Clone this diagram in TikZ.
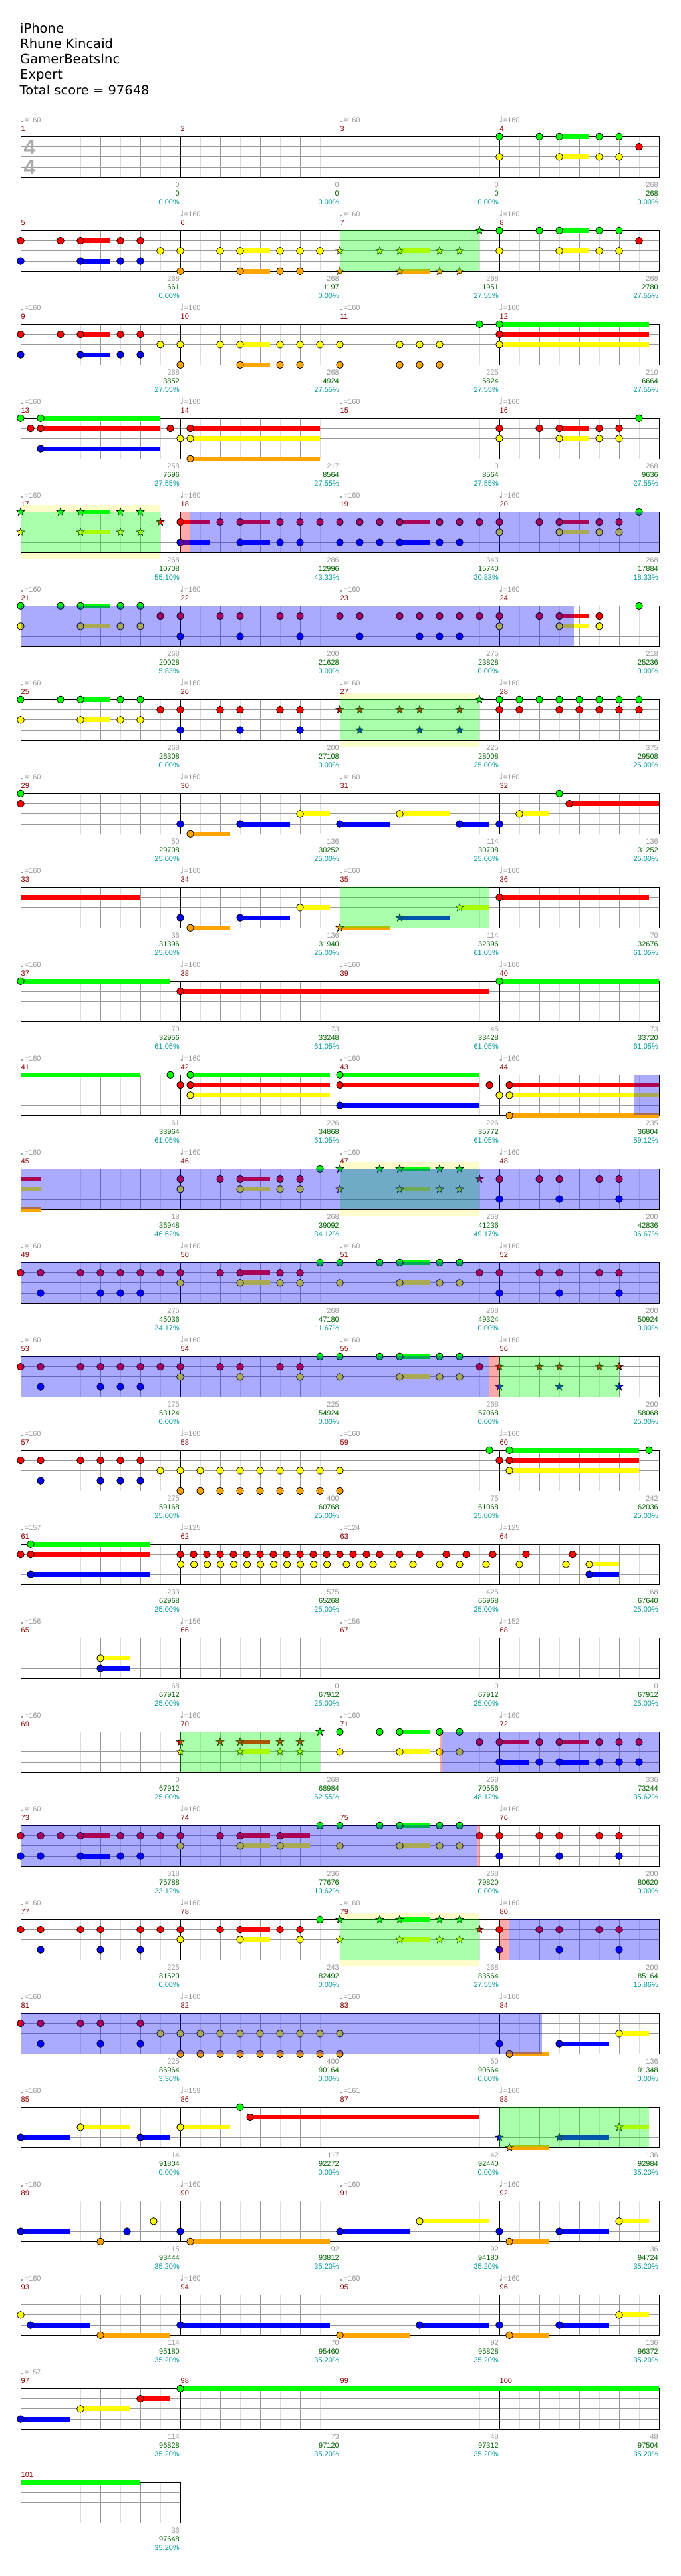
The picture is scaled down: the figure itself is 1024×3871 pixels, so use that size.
\documentclass[tikz,border=0pt]{standalone}
\usepackage{fontspec}
\setmainfont{Liberation Sans}
\newfontfamily\headfont{DejaVu Sans}

\definecolor{lane0}{RGB}{0,255,0}
\definecolor{lane1}{RGB}{255,0,0}
\definecolor{lane2}{RGB}{255,255,0}
\definecolor{lane3}{RGB}{0,0,255}
\definecolor{lane4}{RGB}{255,165,0}
\definecolor{gridlight}{RGB}{221,221,221}
\definecolor{gridbeat}{RGB}{153,153,153}
\definecolor{numred}{RGB}{139,0,0}
\definecolor{ptsgray}{RGB}{153,153,153}
\definecolor{totgreen}{RGB}{0,100,0}
\definecolor{pctcyan}{RGB}{0,153,153}
\definecolor{siggray}{RGB}{170,170,170}

% measure origin: \mx = left edge, \my = top string
\newcommand\mxy[1]{%
  \pgfmathsetmacro\mx{31+240*mod(#1-1,4)}%
  \pgfmathsetmacro\my{205.3+141*floor((#1-1)/4)}}
% note: measure, position (16ths), lane
\newcommand\nt[3]{\mxy{#1}%
  \filldraw[fret, fill=lane#3] (\mx+15*#2, \my+15.25*#3) circle[radius=5.3pt];}
\newcommand\starnt[3]{\mxy{#1}%
  \filldraw[fret, line width=0.6pt, fill=lane#3] (\mx+15*#2, \my+15.25*#3)
    +(270:6.3) -- +(306:2.6) -- +(342:6.3) -- +(18:2.6) -- +(54:6.3) -- +(90:2.6)
    -- +(126:6.3) -- +(162:2.6) -- +(198:6.3) -- +(234:2.6) -- cycle;}
\newcommand\nts[3]{\foreach \p in {#3}{\nt{#1}{\p}{#2}}}
\newcommand\sts[3]{\foreach \p in {#3}{\starnt{#1}{\p}{#2}}}
% sustain: measure, lane, from, to
\newcommand\hld[4]{\mxy{#1}%
  \fill[lane#2] (\mx+15*#3, \my+15.25*#2-3.5) rectangle (\mx+15*#4, \my+15.25*#2+3.5);}
\newcommand\zone[4]{\mxy{#2}%
  \fill[#1] (\mx+15*#3, \my) rectangle (\mx+15*#4, \my+61);}
\newcommand\soloband[3]{\mxy{#1}%
  \fill[solo] (\mx+15*#2, \my-10) rectangle (\mx+15*#3, \my);
  \fill[solo] (\mx+15*#2, \my+61) rectangle (\mx+15*#3, \my+71);}
\newcommand\bpm[2]{\mxy{#1}%
  \node[lab, text=ptsgray, anchor=base west] (bpm#1) at (\mx-0.5, \my-20.4)
    {{\headfont\fontsize{13}{13}\selectfont ♩}=#2};}

\begin{document}
\begin{tikzpicture}[x=1pt, y=-1pt,
    fret/.style={draw=black, line width=0.8pt},
    eighth/.style={draw=gridlight, line width=0.9pt},
    beat/.style={draw=gridbeat, line width=0.9pt},
    bar/.style={draw=black, line width=0.9pt},
    solo/.style={fill=yellow!20},
    sp/.style={fill=lane0, fill opacity=0.333},
    od/.style={fill=lane3, fill opacity=0.333},
    miss/.style={fill=lane1, fill opacity=0.333},
    lab/.style={inner sep=0pt, anchor=base east, font=\fontsize{11}{13}\selectfont},
    head/.style={inner sep=0pt, anchor=base west, font=\headfont\fontsize{19.5}{23}\selectfont},
    tsig/.style={inner sep=0pt, text=siggray, font=\bfseries\fontsize{32}{32}\selectfont}
  ]
  \fill[white] (0,0) rectangle (1024,3871);
  \useasboundingbox (0,0) rectangle (1024,3871);

  % solo bands
  \soloband{17}{0}{14} \soloband{27}{0}{14} \soloband{47}{0}{14} \soloband{79}{0}{14}

  % staves
  \foreach \r in {0,...,25} {
    \pgfmathsetmacro\ty{205.3+141*\r}
    \pgfmathtruncatemacro\xe{\r==25 ? 271 : 991}
    \pgfmathtruncatemacro\xl{\xe-30}
    \pgfmathtruncatemacro\xg{\xe-60}
    \foreach \x in {61,121,...,\xl} \draw[eighth] (\x,\ty) -- (\x,\ty+61);
    \foreach \x in {91,151,...,\xg} \draw[beat] (\x,\ty) -- (\x,\ty+61);
    \foreach \l in {1,2,3} \draw[beat] (31,\ty+15.25*\l) -- (\xe,\ty+15.25*\l);
    \ifnum\r<25
      \foreach \x in {271,511,751} \draw[bar] (\x,\ty) -- (\x,\ty+61);
    \fi
    \draw[bar, line width=1pt] (31,\ty) rectangle (\xe,\ty+61);
  }

  \node[tsig] (sigtop) at (44.5,221) {4};
  \node[tsig] (sigbot) at (44.5,251) {4};

  % sustains
  \hld{4}{0}{6}{9} \hld{4}{2}{6}{9}
  \hld{5}{1}{6}{9} \hld{5}{3}{6}{9}
  \hld{6}{2}{6}{9} \hld{6}{4}{6}{9}
  \hld{7}{2}{6}{9} \hld{7}{4}{6}{9}
  \hld{8}{0}{6}{9} \hld{8}{2}{6}{9}
  \hld{9}{1}{6}{9} \hld{9}{3}{6}{9}
  \hld{10}{2}{6}{9} \hld{10}{4}{6}{9}
  \hld{12}{0}{0}{15} \hld{12}{1}{0}{15} \hld{12}{2}{0}{15}
  \hld{13}{0}{2}{14} \hld{13}{1}{2}{14} \hld{13}{3}{2}{14}
  \hld{14}{1}{1}{14} \hld{14}{2}{1}{14} \hld{14}{4}{1}{14}
  \hld{16}{1}{6}{9} \hld{16}{2}{6}{9}
  \hld{17}{0}{6}{9} \hld{17}{2}{6}{9}
  \hld{18}{1}{0}{3} \hld{18}{3}{0}{3} \hld{18}{1}{6}{9} \hld{18}{3}{6}{9}
  \hld{19}{1}{6}{9} \hld{19}{3}{6}{9}
  \hld{20}{1}{6}{9} \hld{20}{2}{6}{9}
  \hld{21}{0}{6}{9} \hld{21}{2}{6}{9}
  \hld{24}{1}{6}{9} \hld{24}{2}{6}{9}
  \hld{25}{0}{6}{9} \hld{25}{2}{6}{9}
  \hld{30}{4}{1}{5} \hld{30}{3}{6}{11} \hld{30}{2}{12}{15}
  \hld{31}{3}{0}{5} \hld{31}{2}{6}{11} \hld{31}{3}{12}{15}
  \hld{32}{2}{2}{5} \hld{32}{1}{7}{16}
  \hld{33}{1}{0}{12}
  \hld{34}{4}{1}{5} \hld{34}{3}{6}{11} \hld{34}{2}{12}{15}
  \hld{35}{4}{0}{5} \hld{35}{3}{6}{11} \hld{35}{2}{12}{15}
  \hld{36}{1}{0}{15}
  \hld{37}{0}{0}{15}
  \hld{38}{1}{0}{31}
  \hld{40}{0}{0}{16}
  \hld{41}{0}{0}{12}
  \hld{42}{0}{1}{15} \hld{42}{1}{1}{15} \hld{42}{2}{1}{15}
  \hld{43}{0}{0}{14} \hld{43}{1}{0}{14} \hld{43}{3}{0}{14}
  \hld{44}{1}{1}{16} \hld{44}{2}{1}{16} \hld{44}{4}{1}{16}
  \hld{45}{1}{0}{2} \hld{45}{2}{0}{2} \hld{45}{4}{0}{2}
  \hld{46}{1}{6}{9} \hld{46}{2}{6}{9}
  \hld{47}{0}{6}{9} \hld{47}{2}{6}{9}
  \hld{50}{1}{6}{9} \hld{50}{2}{6}{9}
  \hld{51}{0}{6}{9} \hld{51}{2}{6}{9}
  \hld{55}{0}{6}{9} \hld{55}{2}{6}{9}
  \hld{60}{0}{1}{14} \hld{60}{1}{1}{14} \hld{60}{2}{1}{14}
  \hld{61}{0}{1}{13} \hld{61}{1}{1}{13} \hld{61}{3}{1}{13}
  \hld{64}{2}{9}{12} \hld{64}{3}{9}{12}
  \hld{65}{2}{8}{11} \hld{65}{3}{8}{11}
  \hld{70}{1}{6}{9} \hld{70}{2}{6}{9}
  \hld{71}{0}{6}{9} \hld{71}{2}{6}{9}
  \hld{72}{1}{0}{3} \hld{72}{3}{0}{3} \hld{72}{1}{6}{9} \hld{72}{3}{6}{9}
  \hld{73}{1}{6}{9} \hld{73}{3}{6}{9}
  \hld{74}{1}{6}{9} \hld{74}{1}{10}{13} \hld{74}{2}{6}{9} \hld{74}{2}{10}{13}
  \hld{75}{0}{6}{9} \hld{75}{2}{6}{9}
  \hld{78}{1}{6}{9} \hld{78}{2}{6}{9}
  \hld{79}{0}{6}{9} \hld{79}{2}{6}{9}
  \hld{84}{4}{1}{5} \hld{84}{3}{6}{11} \hld{84}{2}{12}{15}
  \hld{85}{3}{0}{5} \hld{85}{2}{6}{11} \hld{85}{3}{12}{15}
  \hld{86}{2}{0}{5} \hld{86}{1}{7}{30}
  \hld{88}{4}{1}{5} \hld{88}{3}{6}{11} \hld{88}{2}{12}{15}
  \hld{89}{3}{0}{5}
  \hld{90}{4}{1}{15}
  \hld{91}{3}{0}{7} \hld{91}{2}{8}{15}
  \hld{92}{4}{1}{5} \hld{92}{3}{6}{11} \hld{92}{2}{12}{15}
  \hld{93}{3}{1}{7} \hld{93}{4}{8}{15}
  \hld{94}{3}{0}{15}
  \hld{95}{4}{0}{7} \hld{95}{3}{8}{15}
  \hld{96}{4}{1}{5} \hld{96}{3}{6}{11} \hld{96}{2}{12}{15}
  \hld{97}{3}{0}{5} \hld{97}{2}{6}{11} \hld{97}{1}{12}{15}
  \hld{98}{0}{0}{48}
  \hld{101}{0}{0}{12}

  % notes
  \nts{4}{0}{0,4,6,10,12} \nts{4}{2}{0,6,10,12} \nts{4}{1}{14}
  \nts{5}{1}{0,4,6,10,12} \nts{5}{3}{0,6,10,12} \nts{5}{2}{14}
  \nts{6}{2}{0,4,6,10,12,14} \nts{6}{4}{0,6,10,12}
  \sts{7}{2}{0,4,6,10,12} \sts{7}{4}{0,6,10,12} \sts{7}{0}{14}
  \nts{8}{0}{0,4,6,10,12} \nts{8}{2}{0,6,10,12} \nts{8}{1}{14}
  \nts{9}{1}{0,4,6,10,12} \nts{9}{3}{0,6,10,12} \nts{9}{2}{14}
  \nts{10}{2}{0,4,6,10,12,14} \nts{10}{4}{0,6,10,12}
  \nts{11}{2}{0,6,8,10} \nts{11}{4}{0,6,8,10} \nts{11}{0}{14}
  \nts{12}{0}{0} \nts{12}{1}{0} \nts{12}{2}{0}
  \nts{13}{0}{0,2} \nts{13}{1}{1,2,15} \nts{13}{3}{2}
  \nts{14}{2}{0,1} \nts{14}{1}{1} \nts{14}{4}{1}
  \nts{16}{1}{0,4,6,10,12} \nts{16}{2}{0,6,10,12} \nts{16}{0}{14}
  \sts{17}{0}{0,4,6,10,12} \sts{17}{2}{0,6,10,12} \sts{17}{1}{14}
  \nts{18}{1}{0,4,6,10,12,14} \nts{18}{3}{0,6,10,12}
  \nts{19}{1}{0,2,4,6,10,12,14} \nts{19}{3}{0,2,4,6,10,12}
  \nts{20}{1}{0,4,6,10,12} \nts{20}{2}{0,6,10,12} \nts{20}{0}{14}
  \nts{21}{0}{0,4,6,10,12} \nts{21}{2}{0,6,10,12} \nts{21}{1}{14}
  \nts{22}{1}{0,4,6,10,12} \nts{22}{3}{0,6,12}
  \nts{23}{1}{0,2,6,8,10,12,14} \nts{23}{3}{2,8,10,12}
  \nts{24}{1}{0,4,6,10} \nts{24}{2}{0,6,10} \nts{24}{0}{14}
  \nts{25}{0}{0,4,6,10,12} \nts{25}{2}{0,6,10,12} \nts{25}{1}{14}
  \nts{26}{1}{0,4,6,10,12} \nts{26}{3}{0,6,12}
  \sts{27}{1}{0,2,6,8,12} \sts{27}{3}{2,8,12} \sts{27}{0}{14}
  \nts{28}{0}{0,2,4,6,8,10,12,14} \nts{28}{1}{0,2,6,8,10,12,14}
  \nts{29}{0}{0} \nts{29}{1}{0}
  \nts{30}{3}{0,6} \nts{30}{4}{1} \nts{30}{2}{12}
  \nts{31}{3}{0,12} \nts{31}{2}{6}
  \nts{32}{3}{0} \nts{32}{2}{2} \nts{32}{0}{6} \nts{32}{1}{7}
  \nts{34}{3}{0,6} \nts{34}{4}{1} \nts{34}{2}{12}
  \sts{35}{4}{0} \sts{35}{3}{6} \sts{35}{2}{12}
  \nts{36}{1}{0}
  \nts{37}{0}{0}
  \nts{38}{1}{0}
  \nts{40}{0}{0}
  \nts{41}{0}{15}
  \nts{42}{1}{0,1} \nts{42}{0}{1} \nts{42}{2}{1}
  \nts{43}{0}{0} \nts{43}{1}{0,15} \nts{43}{3}{0}
  \nts{44}{2}{0,1} \nts{44}{1}{1} \nts{44}{4}{1}
  \nts{46}{1}{0,4,6,10,12} \nts{46}{2}{0,6,10,12} \nts{46}{0}{14}
  \sts{47}{0}{0,4,6,10,12} \sts{47}{2}{0,6,10,12} \sts{47}{1}{14}
  \nts{48}{1}{0,4,6,10,12} \nts{48}{3}{0,6,12}
  \nts{49}{1}{0,2,6,8,10,12,14} \nts{49}{3}{2,8,10,12}
  \nts{50}{1}{0,4,6,10,12} \nts{50}{2}{0,6,10,12} \nts{50}{0}{14}
  \nts{51}{0}{0,4,6,10,12} \nts{51}{2}{0,6,10,12} \nts{51}{1}{14}
  \nts{52}{1}{0,4,6,10,12} \nts{52}{3}{0,6,12}
  \nts{53}{1}{0,2,6,8,10,12,14} \nts{53}{3}{2,8,10,12}
  \nts{54}{1}{0,4,6,10,12} \nts{54}{2}{0,6,12} \nts{54}{0}{14}
  \nts{55}{0}{0,4,6,10,12} \nts{55}{2}{0,6,10,12} \nts{55}{1}{14}
  \sts{56}{1}{0,4,6,10,12} \sts{56}{3}{0,6,12}
  \nts{57}{1}{0,2,6,8,10,12} \nts{57}{3}{2,8,10,12} \nts{57}{2}{14}
  \nts{58}{2}{0,2,4,6,8,10,12,14} \nts{58}{4}{0,2,4,6,8,10,12,14}
  \nts{59}{2}{0} \nts{59}{4}{0} \nts{59}{0}{15}
  \nts{60}{1}{0,1} \nts{60}{0}{1,15} \nts{60}{2}{1}
  \nts{61}{1}{0,1} \nts{61}{0}{1} \nts{61}{3}{1}
  \foreach \k in {0,...,11} {\nt{62}{\k*4/3}{1} \nt{62}{\k*4/3+2/3}{2}}
  \nts{63}{1}{0,1.333,2.667,4,6,8,10.667,12.667,15.333}
  \nts{63}{2}{0.667,2,3.333,5.333,7.333,10,12,14.667}
  \nts{64}{2}{2,6.667,9} \nts{64}{1}{2.667,7.333} \nts{64}{3}{9}
  \nts{65}{2}{8} \nts{65}{3}{8}
  \sts{70}{1}{0,4,6,10,12} \sts{70}{2}{0,6,10,12} \sts{70}{0}{14}
  \nts{71}{0}{0,4,6,10,12} \nts{71}{2}{0,6,10,12} \nts{71}{1}{14}
  \nts{72}{1}{0,4,6,10,12,14} \nts{72}{3}{0,4,6,10,12,14}
  \nts{73}{1}{0,2,4,6,10,12,14} \nts{73}{3}{0,2,6,10,12}
  \nts{74}{1}{0,4,6,10} \nts{74}{2}{0,6,10} \nts{74}{0}{14}
  \nts{75}{0}{0,4,6,10,12} \nts{75}{2}{0,6,10,12} \nts{75}{1}{14}
  \nts{76}{1}{0,4,6,10,12} \nts{76}{3}{0,6,12}
  \nts{77}{1}{0,2,6,8,12,14} \nts{77}{3}{2,8,12}
  \nts{78}{1}{0,4,6,10,12} \nts{78}{2}{0,6,12} \nts{78}{0}{14}
  \sts{79}{0}{0,4,6,10,12} \sts{79}{2}{0,6,10,12} \sts{79}{1}{14}
  \nts{80}{1}{0,4,6,10,12} \nts{80}{3}{0,6,12}
  \nts{81}{1}{0,2,6,8,12} \nts{81}{3}{2,8,12} \nts{81}{2}{14}
  \nts{82}{2}{0,2,4,6,8,10,12,14} \nts{82}{4}{0,2,4,6,8,10,12,14}
  \nts{83}{2}{0} \nts{83}{4}{0}
  \nts{84}{3}{0,6} \nts{84}{4}{1} \nts{84}{2}{12}
  \nts{85}{3}{0,12} \nts{85}{2}{6}
  \nts{86}{2}{0} \nts{86}{0}{6} \nts{86}{1}{7}
  \sts{88}{3}{0,6} \sts{88}{4}{1} \sts{88}{2}{12}
  \nts{89}{3}{0,10.667} \nts{89}{4}{8} \nts{89}{2}{13.333}
  \nts{90}{3}{0} \nts{90}{4}{1}
  \nts{91}{3}{0} \nts{91}{2}{8}
  \nts{92}{3}{0,6} \nts{92}{4}{1} \nts{92}{2}{12}
  \nts{93}{2}{0} \nts{93}{3}{1} \nts{93}{4}{8}
  \nts{94}{3}{0}
  \nts{95}{4}{0} \nts{95}{3}{8}
  \nts{96}{3}{0,6} \nts{96}{4}{1} \nts{96}{2}{12}
  \nts{97}{3}{0} \nts{97}{2}{6} \nts{97}{1}{12}
  \nts{98}{0}{0}

  % star power, overdrive and missed zones
  \zone{sp}{7}{0}{14} \zone{sp}{17}{0}{14} \zone{sp}{27}{0}{14}
  \zone{sp}{35}{0}{15} \zone{sp}{47}{0}{14} \zone{sp}{56}{0}{12}
  \zone{sp}{70}{0}{14} \zone{sp}{79}{0}{14} \zone{sp}{88}{0}{15}
  \zone{od}{18}{0.9}{48} \zone{od}{21}{0}{55.45} \zone{od}{44}{13.5}{16}
  \zone{od}{45}{0}{64} \zone{od}{49}{0}{64} \zone{od}{53}{0}{47.03}
  \zone{od}{71}{10.25}{32} \zone{od}{73}{0}{45.73} \zone{od}{80}{1}{16}
  \zone{od}{81}{0}{52.27}
  \zone{miss}{18}{0}{0.9} \zone{miss}{53}{47.03}{48} \zone{miss}{71}{10}{10.25}
  \zone{miss}{73}{45.73}{46.05} \zone{miss}{80}{0}{1}

  % header
  \node[head] (song) at (30,49) {iPhone};
  \node[head] (artist) at (30,72.3) {Rhune Kincaid};
  \node[head] (charter) at (30,95.6) {GamerBeatsInc};
  \node[head] (level) at (30,118.9) {Expert};
  \node[head] (total) at (29.5,142.2) {Total score = 97648};

  % tempo marks
  \foreach \m in {1,3,4} {\bpm{\m}{160}}
  \foreach \m in {6,...,60} {\bpm{\m}{160}}
  \foreach \m in {69,...,74} {\bpm{\m}{160}}
  \foreach \m in {76,...,85} {\bpm{\m}{160}}
  \foreach \m in {88,...,96} {\bpm{\m}{160}}
  \foreach \m/\t in {61/157, 62/125, 63/124, 64/125, 65/156, 66/156, 67/156,
                     68/152, 86/159, 87/161, 97/157} {\bpm{\m}{\t}}

  % measure numbers
  \foreach \m in {1,...,101} {
    \mxy{\m}
    \node[lab, text=numred, anchor=base west] (num\m) at (\mx+0.5, \my-7.7) {\m};
  }

  % scores
  \foreach \m/\pts/\tot/\pct in {1/0/0/0.00, 2/0/0/0.00, 3/0/0/0.00, 4/268/268/0.00,
      5/268/661/0.00, 6/268/1197/0.00, 7/268/1951/27.55, 8/268/2780/27.55,
      9/268/3852/27.55, 10/268/4924/27.55, 11/225/5824/27.55, 12/210/6664/27.55,
      13/258/7696/27.55, 14/217/8564/27.55, 15/0/8564/27.55, 16/268/9636/27.55,
      17/268/10708/55.10, 18/286/12996/43.33, 19/343/15740/30.83, 20/268/17884/18.33,
      21/268/20028/5.83, 22/200/21628/0.00, 23/275/23828/0.00, 24/218/25236/0.00,
      25/268/26308/0.00, 26/200/27108/0.00, 27/225/28008/25.00, 28/375/29508/25.00,
      29/50/29708/25.00, 30/136/30252/25.00, 31/114/30708/25.00, 32/136/31252/25.00,
      33/36/31396/25.00, 34/136/31940/25.00, 35/114/32396/61.05, 36/70/32676/61.05,
      37/70/32956/61.05, 38/73/33248/61.05, 39/45/33428/61.05, 40/73/33720/61.05,
      41/61/33964/61.05, 42/226/34868/61.05, 43/226/35772/61.05, 44/235/36804/59.12,
      45/18/36948/46.62, 46/268/39092/34.12, 47/268/41236/49.17, 48/200/42836/36.67,
      49/275/45036/24.17, 50/268/47180/11.67, 51/268/49324/0.00, 52/200/50924/0.00,
      53/275/53124/0.00, 54/225/54924/0.00, 55/268/57068/0.00, 56/200/58068/25.00,
      57/275/59168/25.00, 58/400/60768/25.00, 59/75/61068/25.00, 60/242/62036/25.00,
      61/233/62968/25.00, 62/575/65268/25.00, 63/425/66968/25.00, 64/168/67640/25.00,
      65/68/67912/25.00, 66/0/67912/25.00, 67/0/67912/25.00, 68/0/67912/25.00,
      69/0/67912/25.00, 70/268/68984/52.55, 71/268/70556/48.12, 72/336/73244/35.62,
      73/318/75788/23.12, 74/236/77676/10.62, 75/268/79820/0.00, 76/200/80620/0.00,
      77/225/81520/0.00, 78/243/82492/0.00, 79/268/83564/27.55, 80/200/85164/15.86,
      81/225/86964/3.36, 82/400/90164/0.00, 83/50/90564/0.00, 84/136/91348/0.00,
      85/114/91804/0.00, 86/117/92272/0.00, 87/42/92440/0.00, 88/136/92984/35.20,
      89/115/93444/35.20, 90/92/93812/35.20, 91/92/94180/35.20, 92/136/94724/35.20,
      93/114/95180/35.20, 94/70/95460/35.20, 95/92/95828/35.20, 96/136/96372/35.20,
      97/114/96828/35.20, 98/73/97120/35.20, 99/48/97312/35.20, 100/48/97504/35.20,
      101/36/97648/35.20} {
    \mxy{\m}
    \node[lab, text=ptsgray] (pts\m) at (\mx+239, \my+76.3) {\pts};
    \node[lab, text=totgreen] (tot\m) at (\mx+239, \my+89.3) {\tot};
    \node[lab, text=pctcyan] (pct\m) at (\mx+239, \my+102.6) {\pct\%};
  }
\end{tikzpicture}
\end{document}
